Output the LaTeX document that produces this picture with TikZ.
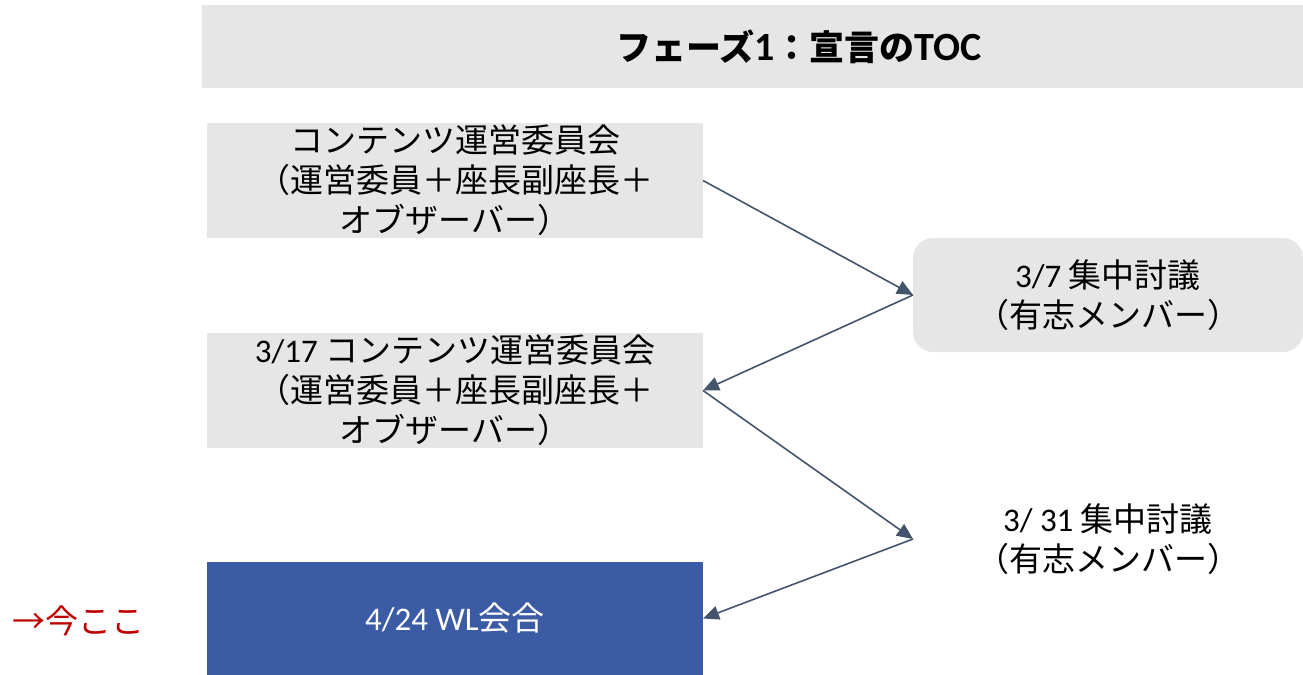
\documentclass[tikz,border=0pt]{standalone}
\usepackage{fontspec}
\setmainfont{Carlito}
\newfontfamily\jp{Noto Sans CJK JP}
\usetikzlibrary{arrows.meta}
\definecolor{boxgray}{HTML}{E7E6E6}
\definecolor{wlblue}{HTML}{3B5BA5}
\definecolor{arrowc}{HTML}{44546A}
\definecolor{nowred}{HTML}{C00000}
\newcommand{\J}[1]{{\jp #1}}
\tikzset{
  every node/.style={font=\fontsize{16.5pt}{20pt}\selectfont, align=center, inner sep=0pt, outer sep=0pt},
  graybox/.style={fill=boxgray, minimum width=248pt, minimum height=57.5pt},
  bluebox/.style={fill=wlblue, text=white, minimum width=248pt, minimum height=56.5pt},
  roundbox/.style={fill=boxgray, rounded corners=10pt, minimum width=195pt, minimum height=57pt},
  plainbox/.style={minimum width=195pt, minimum height=57pt},
  flow/.style={draw=arrowc, line width=0.8pt, -{Triangle[length=8pt, width=7pt]}}
}
\begin{document}
\begin{tikzpicture}[x=0.5pt, y=-0.5pt]
\useasboundingbox (0,0) rectangle (1303,675);
% title bar
\node[fill=boxgray, minimum width=550.5pt, minimum height=41.5pt] (bar) at (752.5,46.5) {};
\node[font=\fontsize{17.5pt}{20pt}\selectfont\bfseries] (title) at (799,47) {\J{フェーズ}{\fontsize{20pt}{20pt}\selectfont 1}\J{：宣言の}{\fontsize{20pt}{20pt}\selectfont TOC}};
% boxes
\node[graybox] (b1) at (455,180.5) {\J{コンテンツ運営委員会}\\\J{（運営委員＋座長副座長＋}\\\J{オブザーバー）}};
\node[roundbox] (b2) at (1108,295) {3/7 \J{集中討議}\\\J{（有志メンバー）}};
\node[graybox] (b3) at (455,390.5) {3/17 \J{コンテンツ運営委員会}\\\J{（運営委員＋座長副座長＋}\\\J{オブザーバー）}};
\node[plainbox] (b4) at (1108,539) {3/ 31 \J{集中討議}\\\J{（有志メンバー）}};
\node[bluebox] (b5) at (455,618.5) {4/24 WL\J{会合}};
\node[text=nowred] (now) at (78,621) {\J{→今ここ}};
% connectors
\draw[flow] (b1.east) -- (b2.west);
\draw[flow] (b2.west) -- (b3.east);
\draw[flow] (b3.east) -- (b4.west);
\draw[flow] (b4.west) -- (b5.east);
\end{tikzpicture}
\end{document}
